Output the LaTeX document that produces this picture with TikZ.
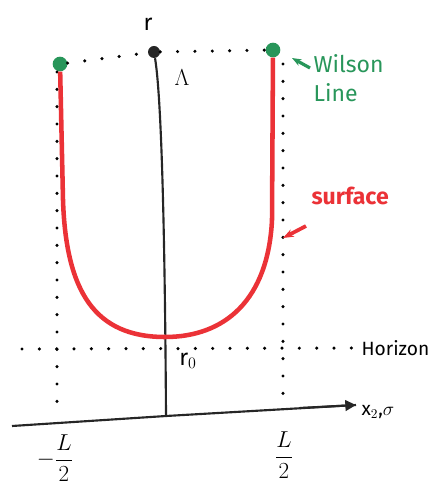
\documentclass[tikz,border=0pt]{standalone}
\usepackage{fontspec}
\setmainfont{Fira Sans}
\usetikzlibrary{arrows.meta}
\definecolor{wgreen}{RGB}{40,150,90}
\definecolor{sred}{RGB}{235,50,55}
\tikzset{
  dots/.style={line width=2.6pt,black,dash pattern=on 0pt off 13pt,line cap=round},
  axisln/.style={line width=1.6pt,black!85},
  surf/.style={line width=3.4pt,sred},
  wdot/.style={circle,fill=wgreen,minimum size=11pt,inner sep=0pt},
  lbl/.style={font=\Large,inner sep=1pt},
}
\begin{document}
\begin{tikzpicture}[x=0.75pt,y=-0.75pt]
\useasboundingbox (0,0) rectangle (440,488);
% named points
\coordinate (xs) at (12,426);
\coordinate (xm) at (166,416);
\coordinate (xe) at (356,405);
\coordinate (ys) at (166,416);
\node[circle,fill=black!85,minimum size=9pt,inner sep=0pt] (top) at (154,52) {};
\node[wdot] (wl) at (60,64) {};
\node[wdot] (wr) at (273,50) {};
\coordinate (hl) at (22,349);
\coordinate (hr) at (352,348);
% dotted lines
\draw[dots] (wl) -- (top) -- (wr);
\draw[dots] (hl) -- (hr);
\draw[dots] (57,72) -- (57,416);
\draw[dots] (283,64) -- (283,402);
% axes
\draw[axisln] (xs) -- (xm) -- (xe);
\draw[axisln,-{Triangle[length=8pt,width=8pt]}] (300,408) -- (xe);
\draw[axisln] (ys) .. controls (165,250) and (162,100) .. (top);
% surface
\draw[surf] (wl) -- (63,200) .. controls (66,292) and (95,337) .. (165,337)
  .. controls (225,337) and (268,300) .. (272,220) -- (wr);
% labels
\node[lbl] (r) at (148,24) {\LARGE r};
\node[lbl] (lam) at (182,78) {\LARGE$\Lambda$};
\node[lbl,anchor=west] (hz) at (360,348) {Horizon};
\node[lbl] (r0) at (188,361) {\LARGE r$_0$};
\node[lbl,anchor=west] (xl) at (360,412) {x$_{2}$,$\sigma$};
\node[lbl] (ml) at (55,458) {\LARGE$\displaystyle-\frac{L}{2}$};
\node[lbl] (pl) at (284,455) {\LARGE$\displaystyle\frac{L}{2}$};
\node[lbl,font=\LARGE,text=wgreen,anchor=west,align=left] (wil) at (312,78) {Wilson\\Line};
\draw[wgreen,line width=2.4pt,-{Stealth[length=7pt]}] (310,68) -- (292,58);
\node[lbl,font=\LARGE\bfseries,text=sred,anchor=west] (sf) at (310,196) {surface};
\draw[sred,line width=2.8pt,-{Stealth[length=8pt]}] (306,226) -- (283,238);
\end{tikzpicture}
\end{document}
